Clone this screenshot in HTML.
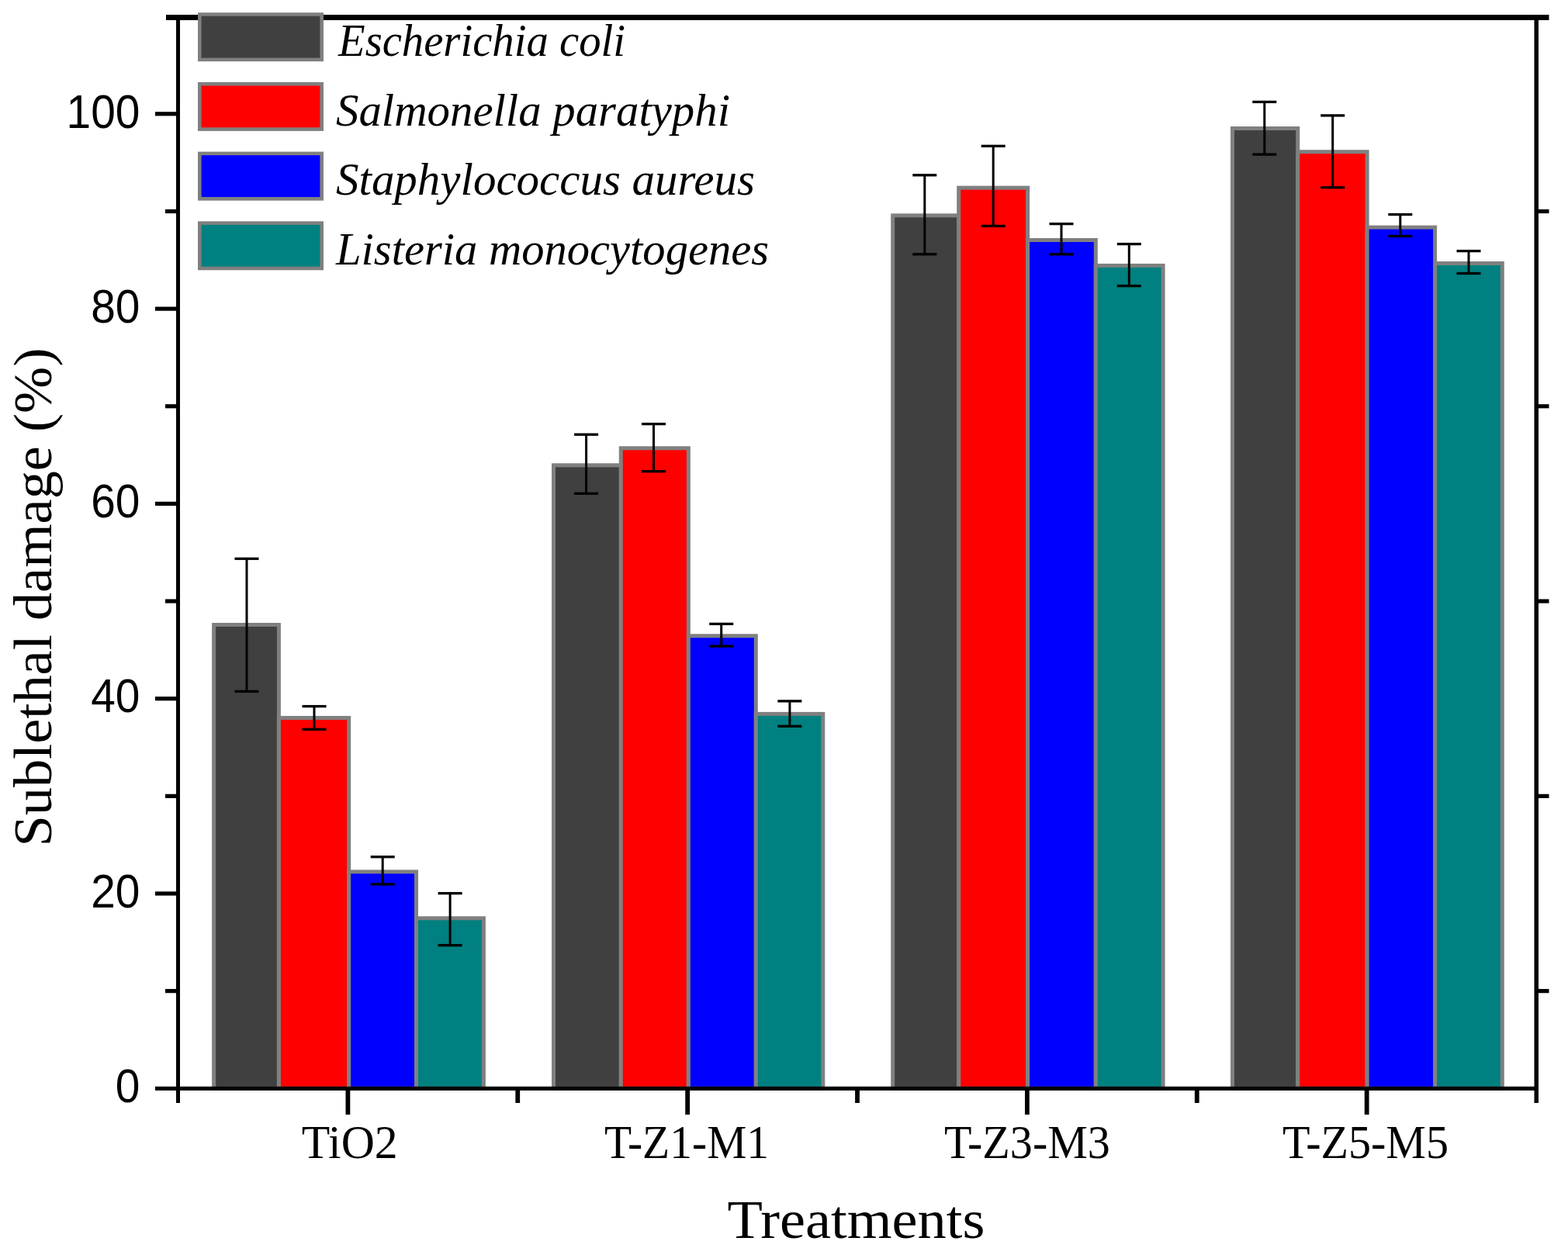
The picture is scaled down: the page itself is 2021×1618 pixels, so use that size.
<!DOCTYPE html>
<html><head><meta charset="utf-8"><title>Sublethal damage chart</title>
<style>html,body{margin:0;padding:0;background:#fff;}svg{display:block;}</style></head>
<body><svg width="2021" height="1618" viewBox="0 0 2021 1618">
<rect x="0" y="0" width="2021" height="1618" fill="#fff"/>
<rect x="275.60" y="805.50" width="83.80" height="597.80" fill="#404040" stroke="#808080" stroke-width="5.0"/>
<rect x="359.40" y="925.50" width="90.30" height="477.80" fill="#ff0000" stroke="#808080" stroke-width="5.0"/>
<rect x="449.70" y="1123.90" width="86.80" height="279.40" fill="#0000ff" stroke="#808080" stroke-width="5.0"/>
<rect x="536.50" y="1183.80" width="86.90" height="219.50" fill="#008080" stroke="#808080" stroke-width="5.0"/>
<rect x="713.50" y="599.80" width="86.80" height="803.50" fill="#404040" stroke="#808080" stroke-width="5.0"/>
<rect x="800.30" y="577.80" width="87.05" height="825.50" fill="#ff0000" stroke="#808080" stroke-width="5.0"/>
<rect x="887.35" y="819.80" width="86.95" height="583.50" fill="#0000ff" stroke="#808080" stroke-width="5.0"/>
<rect x="974.30" y="920.40" width="86.50" height="482.90" fill="#008080" stroke="#808080" stroke-width="5.0"/>
<rect x="1150.70" y="277.80" width="85.00" height="1125.50" fill="#404040" stroke="#808080" stroke-width="5.0"/>
<rect x="1235.70" y="242.10" width="88.90" height="1161.20" fill="#ff0000" stroke="#808080" stroke-width="5.0"/>
<rect x="1324.60" y="309.50" width="87.70" height="1093.80" fill="#0000ff" stroke="#808080" stroke-width="5.0"/>
<rect x="1412.30" y="342.40" width="86.80" height="1060.90" fill="#008080" stroke="#808080" stroke-width="5.0"/>
<rect x="1588.50" y="165.50" width="84.20" height="1237.80" fill="#404040" stroke="#808080" stroke-width="5.0"/>
<rect x="1672.70" y="195.70" width="89.40" height="1207.60" fill="#ff0000" stroke="#808080" stroke-width="5.0"/>
<rect x="1762.10" y="293.10" width="87.50" height="1110.20" fill="#0000ff" stroke="#808080" stroke-width="5.0"/>
<rect x="1849.60" y="339.50" width="86.70" height="1063.80" fill="#008080" stroke="#808080" stroke-width="5.0"/>
<rect x="316.50" y="720.30" width="3.0" height="171.10" fill="#000"/>
<rect x="302.50" y="718.65" width="31" height="3.3" fill="#000"/>
<rect x="302.50" y="889.75" width="31" height="3.3" fill="#000"/>
<rect x="403.50" y="910.60" width="3.0" height="29.70" fill="#000"/>
<rect x="389.50" y="908.95" width="31" height="3.3" fill="#000"/>
<rect x="389.50" y="938.65" width="31" height="3.3" fill="#000"/>
<rect x="491.70" y="1104.70" width="3.0" height="35.30" fill="#000"/>
<rect x="477.70" y="1103.05" width="31" height="3.3" fill="#000"/>
<rect x="477.70" y="1138.35" width="31" height="3.3" fill="#000"/>
<rect x="578.60" y="1151.70" width="3.0" height="67.00" fill="#000"/>
<rect x="564.60" y="1150.05" width="31" height="3.3" fill="#000"/>
<rect x="564.60" y="1217.05" width="31" height="3.3" fill="#000"/>
<rect x="754.10" y="560.20" width="3.0" height="76.10" fill="#000"/>
<rect x="740.10" y="558.55" width="31" height="3.3" fill="#000"/>
<rect x="740.10" y="634.65" width="31" height="3.3" fill="#000"/>
<rect x="841.00" y="546.60" width="3.0" height="61.10" fill="#000"/>
<rect x="827.00" y="544.95" width="31" height="3.3" fill="#000"/>
<rect x="827.00" y="606.05" width="31" height="3.3" fill="#000"/>
<rect x="928.20" y="804.40" width="3.0" height="28.70" fill="#000"/>
<rect x="914.20" y="802.75" width="31" height="3.3" fill="#000"/>
<rect x="914.20" y="831.45" width="31" height="3.3" fill="#000"/>
<rect x="1016.40" y="903.90" width="3.0" height="32.40" fill="#000"/>
<rect x="1002.40" y="902.25" width="31" height="3.3" fill="#000"/>
<rect x="1002.40" y="934.65" width="31" height="3.3" fill="#000"/>
<rect x="1190.30" y="225.80" width="3.0" height="102.00" fill="#000"/>
<rect x="1176.30" y="224.15" width="31" height="3.3" fill="#000"/>
<rect x="1176.30" y="326.15" width="31" height="3.3" fill="#000"/>
<rect x="1278.70" y="188.30" width="3.0" height="103.10" fill="#000"/>
<rect x="1264.70" y="186.65" width="31" height="3.3" fill="#000"/>
<rect x="1264.70" y="289.75" width="31" height="3.3" fill="#000"/>
<rect x="1366.50" y="288.60" width="3.0" height="39.20" fill="#000"/>
<rect x="1352.50" y="286.95" width="31" height="3.3" fill="#000"/>
<rect x="1352.50" y="326.15" width="31" height="3.3" fill="#000"/>
<rect x="1453.80" y="314.60" width="3.0" height="54.00" fill="#000"/>
<rect x="1439.80" y="312.95" width="31" height="3.3" fill="#000"/>
<rect x="1439.80" y="366.95" width="31" height="3.3" fill="#000"/>
<rect x="1628.30" y="131.40" width="3.0" height="67.70" fill="#000"/>
<rect x="1614.30" y="129.75" width="31" height="3.3" fill="#000"/>
<rect x="1614.30" y="197.45" width="31" height="3.3" fill="#000"/>
<rect x="1716.20" y="148.90" width="3.0" height="92.80" fill="#000"/>
<rect x="1702.20" y="147.25" width="31" height="3.3" fill="#000"/>
<rect x="1702.20" y="240.05" width="31" height="3.3" fill="#000"/>
<rect x="1803.30" y="276.50" width="3.0" height="28.00" fill="#000"/>
<rect x="1789.30" y="274.85" width="31" height="3.3" fill="#000"/>
<rect x="1789.30" y="302.85" width="31" height="3.3" fill="#000"/>
<rect x="1891.50" y="323.60" width="3.0" height="28.90" fill="#000"/>
<rect x="1877.50" y="321.95" width="31" height="3.3" fill="#000"/>
<rect x="1877.50" y="350.85" width="31" height="3.3" fill="#000"/>
<rect x="227" y="19" width="5" height="1403" fill="#000"/>
<rect x="1977.5" y="19" width="5.5" height="1403" fill="#000"/>
<rect x="214" y="19" width="1782.5" height="7" fill="#000"/>
<rect x="200" y="1400.8" width="1783" height="5.1" fill="#000"/>
<rect x="200" y="1149.40" width="27" height="5.2" fill="#000"/>
<rect x="200" y="898.10" width="27" height="5.2" fill="#000"/>
<rect x="200" y="646.80" width="27" height="5.2" fill="#000"/>
<rect x="200" y="395.50" width="27" height="5.2" fill="#000"/>
<rect x="200" y="144.20" width="27" height="5.2" fill="#000"/>
<rect x="213" y="1275.05" width="14" height="5.2" fill="#000"/>
<rect x="1983" y="1275.05" width="13.5" height="5.2" fill="#000"/>
<rect x="213" y="1023.75" width="14" height="5.2" fill="#000"/>
<rect x="1983" y="1023.75" width="13.5" height="5.2" fill="#000"/>
<rect x="213" y="772.45" width="14" height="5.2" fill="#000"/>
<rect x="1983" y="772.45" width="13.5" height="5.2" fill="#000"/>
<rect x="213" y="521.15" width="14" height="5.2" fill="#000"/>
<rect x="1983" y="521.15" width="13.5" height="5.2" fill="#000"/>
<rect x="213" y="269.85" width="14" height="5.2" fill="#000"/>
<rect x="1983" y="269.85" width="13.5" height="5.2" fill="#000"/>
<rect x="445.50" y="1405" width="5.8" height="32" fill="#000"/>
<rect x="883.25" y="1405" width="5.8" height="32" fill="#000"/>
<rect x="1321.00" y="1405" width="5.8" height="32" fill="#000"/>
<rect x="1758.75" y="1405" width="5.8" height="32" fill="#000"/>
<rect x="664.35" y="1405" width="5.8" height="17" fill="#000"/>
<rect x="1102.10" y="1405" width="5.8" height="17" fill="#000"/>
<rect x="1539.85" y="1405" width="5.8" height="17" fill="#000"/>
<rect x="257.3" y="18.50" width="157.4" height="58.4" fill="#404040" stroke="#808080" stroke-width="4.6"/>
<rect x="257.3" y="108.20" width="157.4" height="58.4" fill="#ff0000" stroke="#808080" stroke-width="4.6"/>
<rect x="257.3" y="197.90" width="157.4" height="58.4" fill="#0000ff" stroke="#808080" stroke-width="4.6"/>
<rect x="257.3" y="287.60" width="157.4" height="58.4" fill="#008080" stroke="#808080" stroke-width="4.6"/>
<text x="180.4" y="1421.0" font-family="'Liberation Sans', Arial, sans-serif" font-size="60.5" text-anchor="end" textLength="31.62" lengthAdjust="spacingAndGlyphs">0</text>
<text x="180.4" y="1169.7" font-family="'Liberation Sans', Arial, sans-serif" font-size="60.5" text-anchor="end" textLength="63.24" lengthAdjust="spacingAndGlyphs">20</text>
<text x="180.4" y="918.4" font-family="'Liberation Sans', Arial, sans-serif" font-size="60.5" text-anchor="end" textLength="63.24" lengthAdjust="spacingAndGlyphs">40</text>
<text x="180.4" y="667.1" font-family="'Liberation Sans', Arial, sans-serif" font-size="60.5" text-anchor="end" textLength="63.24" lengthAdjust="spacingAndGlyphs">60</text>
<text x="180.4" y="415.8" font-family="'Liberation Sans', Arial, sans-serif" font-size="60.5" text-anchor="end" textLength="63.24" lengthAdjust="spacingAndGlyphs">80</text>
<text x="180.4" y="164.5" font-family="'Liberation Sans', Arial, sans-serif" font-size="60.5" text-anchor="end" textLength="94.86" lengthAdjust="spacingAndGlyphs">100</text>
<text x="450.7" y="1493.3" font-family="'Liberation Serif', 'DejaVu Serif', serif" font-size="62" text-anchor="middle" textLength="124" lengthAdjust="spacingAndGlyphs">TiO2</text>
<text x="885.1" y="1493.3" font-family="'Liberation Serif', 'DejaVu Serif', serif" font-size="62" text-anchor="middle" textLength="212" lengthAdjust="spacingAndGlyphs">T-Z1-M1</text>
<text x="1323.9" y="1493.3" font-family="'Liberation Serif', 'DejaVu Serif', serif" font-size="62" text-anchor="middle" textLength="214" lengthAdjust="spacingAndGlyphs">T-Z3-M3</text>
<text x="1760.0" y="1493.3" font-family="'Liberation Serif', 'DejaVu Serif', serif" font-size="62" text-anchor="middle" textLength="214" lengthAdjust="spacingAndGlyphs">T-Z5-M5</text>
<text x="1103.4" y="1596.2" font-family="'Liberation Serif', 'DejaVu Serif', serif" font-size="69.5" text-anchor="middle" textLength="332" lengthAdjust="spacingAndGlyphs">Treatments</text>
<text transform="translate(66.4 770) rotate(-90)" x="0" y="0" font-family="'Liberation Serif', 'DejaVu Serif', serif" font-size="69.5" text-anchor="middle" textLength="643" lengthAdjust="spacingAndGlyphs">Sublethal damage (%)</text>
<text x="436" y="72.2" font-family="'Liberation Serif', 'DejaVu Serif', serif" font-style="italic" font-size="59.5" textLength="370" lengthAdjust="spacingAndGlyphs">Escherichia coli</text>
<text x="433" y="161.7" font-family="'Liberation Serif', 'DejaVu Serif', serif" font-style="italic" font-size="59.5" textLength="508" lengthAdjust="spacingAndGlyphs">Salmonella paratyphi</text>
<text x="433" y="251.2" font-family="'Liberation Serif', 'DejaVu Serif', serif" font-style="italic" font-size="59.5" textLength="540" lengthAdjust="spacingAndGlyphs">Staphylococcus aureus</text>
<text x="433" y="340.7" font-family="'Liberation Serif', 'DejaVu Serif', serif" font-style="italic" font-size="59.5" textLength="558" lengthAdjust="spacingAndGlyphs">Listeria monocytogenes</text>
</svg></body></html>
